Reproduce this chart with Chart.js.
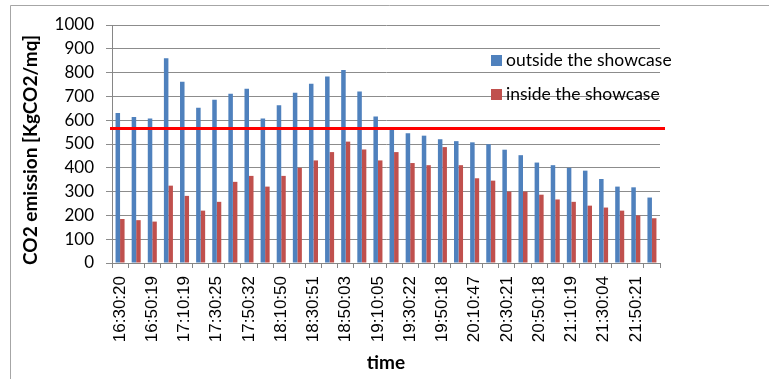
<!DOCTYPE html>
<html>
<head>
<meta charset="utf-8">
<script src="https://cdn.jsdelivr.net/npm/chart.js@4"></script>
<style>
  html, body { margin: 0; padding: 0; background: #fff; }
  #wrap { width: 769px; height: 379px; position: relative; }
</style>
</head>
<body>
<div id="wrap"><canvas id="co2Chart"></canvas></div>
<script>
// tick labels shown on the time axis (one every second bar group)
const timeLabels = [
  "16:30:20", "16:50:19", "17:10:19", "17:30:25", "17:50:32", "18:10:50",
  "18:30:51", "18:50:03", "19:10:05", "19:30:22", "19:50:18", "20:10:47",
  "20:30:21", "20:50:18", "21:10:19", "21:30:04", "21:50:21"
];

const outsideValues = [
  630, 613, 607, 860, 762, 652, 686, 711, 732, 607, 663, 715, 753, 784, 811, 721, 616,
  566, 545, 535, 520, 512, 507, 499, 476, 453, 422, 411, 400, 388, 353, 321, 318, 275
];
const insideValues = [
  185, 180, 174, 325, 282, 220, 257, 341, 366, 321, 366, 400, 431, 466, 510, 477, 431,
  466, 420, 411, 487, 411, 356, 346, 300, 300, 287, 267, 257, 241, 233, 220, 200, 188
];
const seriesNames = ["outside the showcase", "inside the showcase"];
const thresholdValue = 568;
const yTitle = "CO2 emission [KgCO2/mq]";

// every labelled reading is followed by an unlabelled one
const categories = [];
timeLabels.forEach(function (t) { categories.push(t, ""); });

const calibriLike = "Lato, 'Open Sans', sans-serif";

// red limit line, a bit wider than the plot like in the original
const thresholdLine = {
  id: "thresholdLine",
  afterDatasetsDraw(chart) {
    const { ctx, chartArea, scales } = chart;
    const y = Math.round(scales.y.getPixelForValue(thresholdValue)) + 0.5;
    ctx.save();
    ctx.strokeStyle = "#FF0000";
    ctx.lineWidth = 3;
    ctx.beginPath();
    ctx.moveTo(chartArea.left - 2, y);
    ctx.lineTo(chartArea.right + 5, y);
    ctx.stroke();
    ctx.restore();
  }
};

// legend sits inside the plot area, no background
const insideLegend = {
  id: "insideLegend",
  afterDatasetsDraw(chart) {
    const { ctx } = chart;
    ctx.save();
    ctx.font = "17.5px " + calibriLike;
    ctx.textBaseline = "middle";
    chart.data.datasets.forEach(function (ds, i) {
      const cy = 60 + i * 34;
      ctx.fillStyle = ds.backgroundColor;
      ctx.fillRect(491, cy - 5, 11, 11);
      ctx.fillStyle = "#000";
      ctx.fillText(ds.label, 506, cy);
    });
    ctx.restore();
  }
};

// frame of the chart object and the vertical axis title
const frame = {
  id: "frame",
  beforeDraw(chart) {
    const { ctx, width, height } = chart;
    ctx.save();
    ctx.strokeStyle = "#a6a6a6";
    ctx.lineWidth = 1;
    ctx.beginPath();
    ctx.moveTo(10.5, height);
    ctx.lineTo(10.5, 5.5);
    ctx.lineTo(width, 5.5);
    ctx.stroke();

    ctx.translate(31, 150);
    ctx.rotate(-Math.PI / 2);
    ctx.font = "bold 19px " + calibriLike;
    ctx.fillStyle = "#000";
    ctx.textAlign = "center";
    ctx.textBaseline = "middle";
    ctx.fillText(yTitle, 0, 0);
    ctx.restore();
  }
};

const ctx = document.getElementById("co2Chart").getContext("2d");
new Chart(ctx, {
  type: "bar",
  data: {
    labels: categories,
    datasets: [
      {
        label: seriesNames[0],
        data: outsideValues,
        backgroundColor: "#4F81BD",
        barPercentage: 1.0,
        categoryPercentage: 0.56
      },
      {
        label: seriesNames[1],
        data: insideValues,
        backgroundColor: "#C0504D",
        barPercentage: 1.0,
        categoryPercentage: 0.56
      }
    ]
  },
  options: {
    responsive: true,
    maintainAspectRatio: false,
    animation: false,
    layout: { padding: { left: 10, top: 25, right: 109, bottom: 5 } },
    plugins: {
      legend: { display: false },
      tooltip: { enabled: false }
    },
    scales: {
      x: {
        afterFit(scale) { scale.height = 111; },
        grid: {
          drawOnChartArea: false,
          drawTicks: true,
          tickLength: 5,
          color: "#868686"
        },
        border: { color: "#868686" },
        ticks: {
          autoSkip: false,
          minRotation: 90,
          maxRotation: 90,
          padding: 8,
          color: "#000",
          font: { family: "'Liberation Sans', Arial, sans-serif", size: 17 }
        },
        title: {
          display: true,
          text: "time",
          color: "#000",
          font: { family: calibriLike, size: 19, weight: "bold" },
          padding: { top: 0, bottom: 0 }
        }
      },
      y: {
        min: 0,
        max: 1000,
        afterFit(scale) { scale.width = 102; },
        grid: {
          color: "#8c8c8c",
          tickLength: 6
        },
        border: { color: "#868686" },
        ticks: {
          stepSize: 100,
          padding: 12,
          color: "#000",
          font: { family: calibriLike, size: 17 },
          callback: function (value) { return String(value); }
        }
      }
    }
  },
  plugins: [frame, thresholdLine, insideLegend]
});
</script>
</body>
</html>
